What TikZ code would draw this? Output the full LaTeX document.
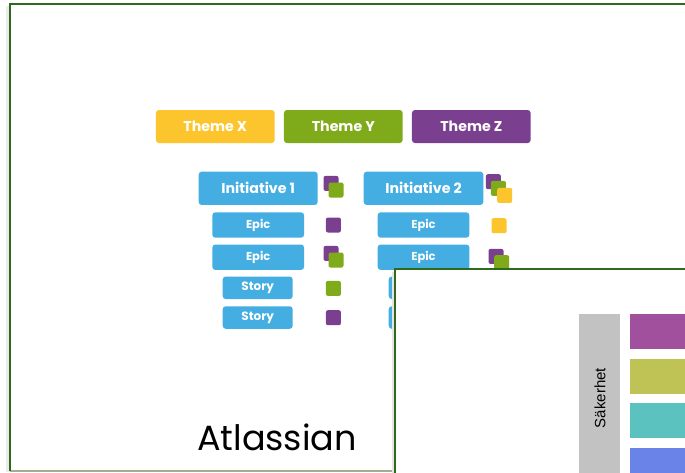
\documentclass[tikz,border=0pt]{standalone}
\usepackage{fontspec}
\setmainfont{Liberation Sans}
\newfontfamily\uifont{Poppins}
\newfontfamily\titlefont{Poppins}
\definecolor{frameGreen}{HTML}{2F6A1C}
\definecolor{frameLight}{HTML}{9DB08F}
\definecolor{thX}{HTML}{FCC42D}
\definecolor{thY}{HTML}{7FAB1A}
\definecolor{thZ}{HTML}{7B3F8F}
\definecolor{atBlue}{HTML}{44AEE3}
\definecolor{barGray}{HTML}{C2C2C2}
\definecolor{barPurple}{HTML}{A0509C}
\definecolor{barOlive}{HTML}{BFC255}
\definecolor{barTeal}{HTML}{5BC2BF}
\definecolor{barBlue}{HTML}{6A83E8}
\tikzset{
  x=1pt, y=-1pt,
  tbox/.style={rectangle, rounded corners=3pt, inner sep=0pt, text=white,
     font=\uifont\bfseries\fontsize{14.2}{14}\selectfont},
  ibox/.style={tbox, fill=atBlue, minimum width=119pt, minimum height=33.3pt},
  ebox/.style={tbox, fill=atBlue, minimum width=91.7pt, minimum height=25.4pt,
     font=\uifont\bfseries\fontsize{11.5}{11}\selectfont},
  sbox/.style={tbox, fill=atBlue, minimum width=70pt, minimum height=22.5pt,
     font=\uifont\bfseries\fontsize{12}{12}\selectfont},
  sq/.style={rectangle, rounded corners=2pt, inner sep=0pt, minimum size=15pt, anchor=north west},
  bar/.style={rectangle, inner sep=0pt, anchor=north west},
}
\begin{document}
\begin{tikzpicture}
\useasboundingbox (0,0) rectangle (685,472);
\fill[white] (0,0) rectangle (685,472);
% outer slide shadow and frame
\fill[black!8] (6,6) rectangle (10,472);
\fill[white] (10,4) rectangle (700,471);
\draw[frameLight, line width=1.5pt] (10,471) -- (700,471);
\draw[frameGreen, line width=2.4pt] (10,471) -- (10,4) -- (700,4);
% themes
\node[tbox, fill=thX, minimum width=118.7pt, minimum height=33pt] (themeX) at (215.3,126.5) {Theme X};
\node[tbox, fill=thY, minimum width=118.7pt, minimum height=33pt] (themeY) at (343.3,126.5) {Theme Y};
\node[tbox, fill=thZ, minimum width=118.7pt, minimum height=33pt] (themeZ) at (471.3,126.5) {Theme Z};
% column 1
\node[ibox] (init1) at (258.2,188.3) {Initiative 1};
\node[ebox] (epic11) at (258.2,225) {Epic};
\node[ebox] (epic12) at (258.2,257.2) {Epic};
\node[sbox] (story11) at (257.7,287.8) {Story};
\node[sbox] (story12) at (257.7,317.5) {Story};
% column 2
\node[ibox, minimum width=119.6pt] (init2) at (423.5,188.3) {Initiative 2};
\node[ebox] (epic21) at (423.5,225) {Epic};
\node[ebox] (epic22) at (423.5,257.2) {Epic};
\node[sbox] (story21) at (423.7,287.8) {Story};
\node[sbox] (story22) at (423.7,317.5) {Story};
% squares column 1
\node[sq, fill=thZ] (q1a) at (323.3,175.7) {};
\node[sq, fill=thY] (q1b) at (328.3,182.3) {};
\node[sq, fill=thZ] (q2a) at (325.7,217.3) {};
\node[sq, fill=thZ] (q3a) at (323.3,245.7) {};
\node[sq, fill=thY] (q3b) at (328.3,252.3) {};
\node[sq, fill=thY] (q4a) at (325.7,280.7) {};
\node[sq, fill=thZ] (q5a) at (325.7,310) {};
% squares column 2
\node[sq, fill=thZ] (r1a) at (485.7,174) {};
\node[sq, fill=thY] (r1b) at (490.7,180.7) {};
\node[sq, fill=thX] (r1c) at (497,187.7) {};
\node[sq, fill=thX] (r2a) at (491.3,218) {};
\node[sq, fill=thZ] (r3a) at (488.3,248.7) {};
\node[sq, fill=thY] (r3b) at (494,255) {};
% caption
\node[anchor=base, inner sep=0pt, font=\titlefont\fontsize{35}{35}\selectfont] (caption) at (277,450) {Atlassian};
% inner slide
\fill[black!10] (392,272) rectangle (395,480);
\fill[white] (395,269) rectangle (700,480);
\draw[frameGreen, line width=2.2pt] (395,480) -- (395,269) -- (700,269);
\node[bar, fill=barGray, minimum width=41pt, minimum height=170pt] (sak) at (578.3,313.3) {};
\node[rotate=90, inner sep=0pt, font=\fontsize{15}{15}\selectfont] (sakText) at (600,398) {Säkerhet};
\node[bar, fill=barPurple, minimum width=70pt, minimum height=35pt] (b1) at (630,313.3) {};
\node[bar, fill=barOlive, minimum width=70pt, minimum height=35pt] (b2) at (630,358.3) {};
\node[bar, fill=barTeal, minimum width=70pt, minimum height=35pt] (b3) at (630,402.7) {};
\node[bar, fill=barBlue, minimum width=70pt, minimum height=35pt] (b4) at (630,447.3) {};
\end{tikzpicture}
\end{document}
